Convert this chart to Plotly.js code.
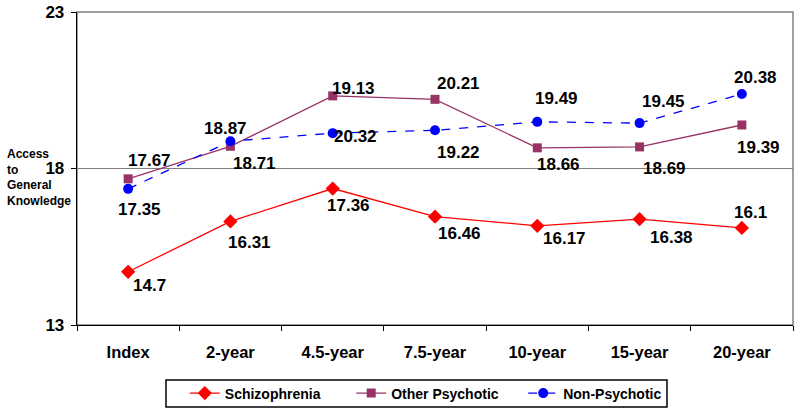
<!DOCTYPE html>
<html>
<head>
<meta charset="utf-8">
<script src="https://cdn.plot.ly/plotly-3.0.1.min.js"></script>
<style>html,body{margin:0;padding:0;background:#fff;}#chart{width:800px;height:414px;}</style>
</head>
<body>
<div id="chart"></div>
<script>
const categories = ["Index", "2-year", "4.5-year", "7.5-year", "10-year", "15-year", "20-year"];
const schizophrenia = [14.7, 16.31, 17.36, 16.46, 16.17, 16.38, 16.1];
const otherPsychotic = [17.67, 18.71, 20.32, 20.21, 18.66, 18.69, 19.39];
const nonPsychotic = [17.35, 18.87, 19.13, 19.22, 19.49, 19.45, 20.38];
const seriesNames = ["Schizophrenia", "Other Psychotic", "Non-Psychotic"];
const yTicks = [13, 18, 23];

// label offsets (pixels) relative to each point, as placed in the original
const schizoShift = [[21,-14],[19,-21],[16,-17],[24,-17],[27,-13],[32,-18],[9,15]];
const otherShift = [[21,18],[24,-17],[23,-41],[23,16],[21,-17],[25,-22],[17,-23]];
const nonShift = [[11,-21],[-5,13],[21,45],[23,-22],[19,23],[24,22],[14,17]];

const FONT = "Liberation Sans, Arial, sans-serif";

const traces = [
  {x: categories, y: schizophrenia, name: seriesNames[0], type: "scatter", mode: "lines+markers", legend: "legend",
   line: {color: "#FF0000", width: 1.3}, marker: {symbol: "diamond", size: 11, color: "#FF0000"}},
  {x: categories, y: otherPsychotic, name: seriesNames[1], type: "scatter", mode: "lines+markers", legend: "legend2",
   line: {color: "#993366", width: 1.3}, marker: {symbol: "square", size: 9, color: "#993366"}},
  {x: categories, y: nonPsychotic, name: seriesNames[2], type: "scatter", mode: "lines+markers", legend: "legend3",
   line: {color: "#0000FF", width: 1.3, dash: "dash"}, marker: {symbol: "circle", size: 10, color: "#0000FF"}}
];

const annotations = [];
function addLabels(vals, shifts) {
  vals.forEach((v, i) => {
    annotations.push({x: categories[i], y: v, xref: "x", yref: "y", text: String(v),
      showarrow: false, xshift: shifts[i][0], yshift: shifts[i][1],
      font: {family: FONT, size: 17, color: "#000", weight: "bold"}});
  });
}
addLabels(schizophrenia, schizoShift);
addLabels(otherPsychotic, otherShift);
addLabels(nonPsychotic, nonShift);

annotations.push({xref: "paper", yref: "paper", x: -0.1, y: 0.575, xanchor: "left", yanchor: "top",
  align: "left", showarrow: false, text: "Access<br>to<br>General<br>Knowledge",
  font: {family: FONT, size: 12, color: "#000", weight: "bold"}});

function legendAt(x) {
  return {orientation: "h", xref: "container", yref: "container", x: x, xanchor: "left",
    y: 0.0495, yanchor: "middle", borderwidth: 0, bgcolor: "rgba(0,0,0,0)",
    font: {family: FONT, size: 14, color: "#000", weight: "bold"}};
}

const layout = {
  width: 800, height: 414,
  margin: {l: 77, r: 7, t: 12, b: 89},
  paper_bgcolor: "#fff", plot_bgcolor: "#fff",
  showlegend: true,
  legend: legendAt(0.231),
  legend2: legendAt(0.439),
  legend3: legendAt(0.654),
  xaxis: {type: "category", tickson: "boundaries", ticks: "outside", ticklen: 5, tickcolor: "#000",
    showline: true, linecolor: "#000", linewidth: 1.3, showgrid: false, zeroline: false,
    tickfont: {family: FONT, size: 16.5, color: "#000", weight: "bold"}, ticklabelstandoff: 12,
    range: [-0.5, 6.5]},
  yaxis: {range: [13, 23], tickvals: yTicks, ticks: "outside", ticklen: 5, tickcolor: "#000",
    showline: true, linecolor: "#000", linewidth: 1.3, showgrid: true, gridcolor: "#808080", gridwidth: 1.3,
    zeroline: false, tickfont: {family: FONT, size: 17, color: "#000", weight: "bold"}, ticklabelstandoff: 3},
  shapes: [
    {type: "rect", xref: "paper", yref: "paper", x0: 0, x1: 1, y0: 0, y1: 1,
     line: {color: "#808080", width: 1.5}, layer: "below"},
    {type: "rect", xref: "paper", yref: "paper", x0: 0.1243, x1: 0.824, y0: -0.1757, y1: -0.262,
     line: {color: "#000", width: 1.5}, fillcolor: "rgba(0,0,0,0)"}
  ],
  annotations: annotations
};

Plotly.newPlot("chart", traces, layout, {displayModeBar: false, staticPlot: true});
</script>
</body>
</html>
